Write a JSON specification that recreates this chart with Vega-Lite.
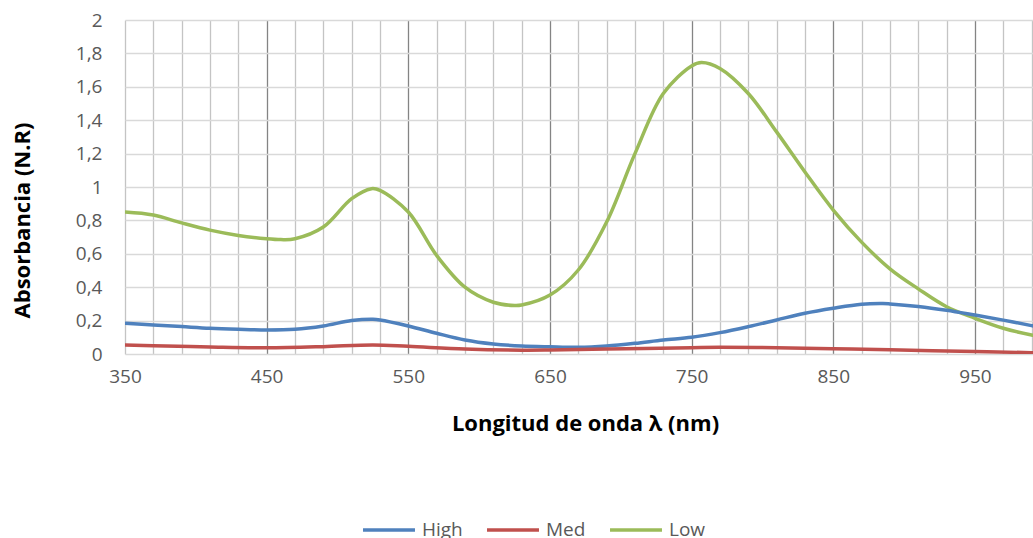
{
  "$schema": "https://vega.github.io/schema/vega-lite/v6.json",
  "autosize": {"type": "none"},
  "padding": {"left": 125, "top": 20, "right": 0, "bottom": 184},
  "width": 908,
  "height": 334,
  "background": "white",
  "config": {
    "view": {"stroke": null},
    "font": "Open Sans"
  },
  "data": {
    "values": [
      {"s": "Low", "x": 350, "y": 0.85}, {"s": "Low", "x": 370, "y": 0.832}, {"s": "Low", "x": 390, "y": 0.785},
      {"s": "Low", "x": 410, "y": 0.742}, {"s": "Low", "x": 430, "y": 0.71}, {"s": "Low", "x": 450, "y": 0.69},
      {"s": "Low", "x": 460, "y": 0.685}, {"s": "Low", "x": 470, "y": 0.69}, {"s": "Low", "x": 490, "y": 0.76},
      {"s": "Low", "x": 510, "y": 0.93}, {"s": "Low", "x": 524, "y": 0.99}, {"s": "Low", "x": 530, "y": 0.98},
      {"s": "Low", "x": 550, "y": 0.85}, {"s": "Low", "x": 570, "y": 0.59}, {"s": "Low", "x": 590, "y": 0.4},
      {"s": "Low", "x": 610, "y": 0.31}, {"s": "Low", "x": 625, "y": 0.29}, {"s": "Low", "x": 630, "y": 0.293},
      {"s": "Low", "x": 650, "y": 0.353}, {"s": "Low", "x": 670, "y": 0.503}, {"s": "Low", "x": 690, "y": 0.79},
      {"s": "Low", "x": 710, "y": 1.2}, {"s": "Low", "x": 730, "y": 1.56}, {"s": "Low", "x": 750, "y": 1.725},
      {"s": "Low", "x": 757, "y": 1.745}, {"s": "Low", "x": 770, "y": 1.71}, {"s": "Low", "x": 790, "y": 1.56},
      {"s": "Low", "x": 810, "y": 1.33}, {"s": "Low", "x": 830, "y": 1.09}, {"s": "Low", "x": 850, "y": 0.862},
      {"s": "Low", "x": 870, "y": 0.67}, {"s": "Low", "x": 890, "y": 0.51}, {"s": "Low", "x": 910, "y": 0.39},
      {"s": "Low", "x": 930, "y": 0.283}, {"s": "Low", "x": 950, "y": 0.214}, {"s": "Low", "x": 970, "y": 0.154},
      {"s": "Low", "x": 990, "y": 0.114}, {"s": "Low", "x": 1000, "y": 0.1},

      {"s": "High", "x": 350, "y": 0.184}, {"s": "High", "x": 370, "y": 0.174}, {"s": "High", "x": 390, "y": 0.164},
      {"s": "High", "x": 410, "y": 0.154}, {"s": "High", "x": 430, "y": 0.148}, {"s": "High", "x": 450, "y": 0.144},
      {"s": "High", "x": 470, "y": 0.148}, {"s": "High", "x": 490, "y": 0.168}, {"s": "High", "x": 510, "y": 0.2},
      {"s": "High", "x": 525, "y": 0.208}, {"s": "High", "x": 530, "y": 0.204}, {"s": "High", "x": 550, "y": 0.168},
      {"s": "High", "x": 570, "y": 0.124}, {"s": "High", "x": 590, "y": 0.084}, {"s": "High", "x": 610, "y": 0.06},
      {"s": "High", "x": 630, "y": 0.048}, {"s": "High", "x": 650, "y": 0.043}, {"s": "High", "x": 670, "y": 0.04},
      {"s": "High", "x": 690, "y": 0.048}, {"s": "High", "x": 710, "y": 0.064}, {"s": "High", "x": 730, "y": 0.084},
      {"s": "High", "x": 750, "y": 0.1}, {"s": "High", "x": 770, "y": 0.128}, {"s": "High", "x": 790, "y": 0.164},
      {"s": "High", "x": 810, "y": 0.204}, {"s": "High", "x": 830, "y": 0.244}, {"s": "High", "x": 850, "y": 0.274},
      {"s": "High", "x": 870, "y": 0.298}, {"s": "High", "x": 885, "y": 0.302}, {"s": "High", "x": 890, "y": 0.3},
      {"s": "High", "x": 910, "y": 0.285}, {"s": "High", "x": 930, "y": 0.262}, {"s": "High", "x": 950, "y": 0.233},
      {"s": "High", "x": 970, "y": 0.203}, {"s": "High", "x": 990, "y": 0.17}, {"s": "High", "x": 1000, "y": 0.155},

      {"s": "Med", "x": 350, "y": 0.054}, {"s": "Med", "x": 370, "y": 0.05}, {"s": "Med", "x": 410, "y": 0.042},
      {"s": "Med", "x": 450, "y": 0.037}, {"s": "Med", "x": 490, "y": 0.044}, {"s": "Med", "x": 525, "y": 0.054},
      {"s": "Med", "x": 550, "y": 0.046}, {"s": "Med", "x": 590, "y": 0.03}, {"s": "Med", "x": 630, "y": 0.023},
      {"s": "Med", "x": 650, "y": 0.024}, {"s": "Med", "x": 690, "y": 0.03}, {"s": "Med", "x": 750, "y": 0.038},
      {"s": "Med", "x": 770, "y": 0.04}, {"s": "Med", "x": 810, "y": 0.038}, {"s": "Med", "x": 850, "y": 0.032},
      {"s": "Med", "x": 890, "y": 0.025}, {"s": "Med", "x": 950, "y": 0.015}, {"s": "Med", "x": 990, "y": 0.008},
      {"s": "Med", "x": 1000, "y": 0.007}
    ]
  },
  "mark": {"type": "line", "interpolate": "catmull-rom", "strokeWidth": 3.5, "clip": true, "strokeCap": "round"},
  "encoding": {
    "x": {
      "field": "x", "type": "quantitative",
      "scale": {"domain": [350, 991], "nice": false, "zero": false},
      "axis": {
        "values": [350,370,390,410,430,450,470,490,510,530,550,570,590,610,630,650,670,690,710,730,750,770,790,810,830,850,870,890,910,930,950,970,990],
        "labelExpr": "(datum.value - 350) % 100 == 0 ? datum.label : ''",
        "grid": true,
        "gridColor": {"condition": {"test": "datum.value != 350 && (datum.value - 350) % 100 == 0", "value": "#848484"}, "value": "#c4c4c4"},
        "gridWidth": 1.3,
        "domain": false, "ticks": false,
        "labelFont": "Open Sans", "labelFontSize": 19, "labelColor": "#595959", "labelPadding": 13,
        "labelFlush": false,
        "title": "Longitud de onda λ (nm)",
        "titleFont": "Open Sans", "titleFontSize": 22, "titleFontWeight": "bold", "titleColor": "#000000",
        "titleX": 460, "titleY": 69, "titleBaseline": "middle", "titleAnchor": null
      }
    },
    "y": {
      "field": "y", "type": "quantitative",
      "scale": {"domain": [0, 2], "nice": false},
      "axis": {
        "values": [0,0.2,0.4,0.6,0.8,1,1.2,1.4,1.6,1.8,2],
        "labelExpr": "replace(format(datum.value, '.1~f'), '.', ',')",
        "grid": true, "gridColor": "#d9d9d9", "gridWidth": 1.3,
        "domain": false, "ticks": false,
        "labelFont": "Open Sans", "labelFontSize": 19, "labelColor": "#595959", "labelPadding": 23,
        "labelFlush": false,
        "title": "Absorbancia (N.R)",
        "titleFont": "Open Sans", "titleFontSize": 22, "titleFontWeight": "bold", "titleColor": "#000000",
        "titleX": -103, "titleY": 200, "titleAngle": -90, "titleBaseline": "middle", "titleAlign": "center"
      }
    },
    "color": {
      "field": "s", "type": "nominal",
      "scale": {"domain": ["High", "Med", "Low"], "range": ["#4F81BD", "#C0504D", "#9BBB59"]},
      "legend": {
        "title": null, "orient": "none", "direction": "horizontal",
        "legendX": 236, "legendY": 482,
        "symbolType": "stroke", "symbolSize": 2700, "symbolStrokeWidth": 3.5,
        "labelFont": "Open Sans", "labelFontSize": 19, "labelColor": "#595959",
        "labelOffset": 5, "columnPadding": 17
      }
    }
  }
}
